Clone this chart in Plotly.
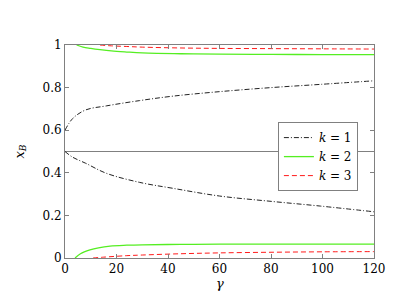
import plotly.graph_objects as go

# ---- data ----
g_k1 = [0, 3, 8, 16, 29, 42, 60, 80, 99, 120]
k1_upper = [0.60, 0.655, 0.695, 0.714, 0.739, 0.760, 0.781, 0.800, 0.815, 0.832]
k1_lower = [0.50, 0.473, 0.445, 0.398, 0.355, 0.327, 0.291, 0.266, 0.244, 0.217]

g_k2 = [4.5, 7, 10, 13.6, 18, 24, 30, 45, 60, 80, 100, 120]
k2_upper = [1.0, 0.990, 0.984, 0.978, 0.972, 0.967, 0.963, 0.959, 0.957, 0.956, 0.955, 0.955]
g_k2l = [3.9, 6, 9.7, 13, 17.5, 24, 30, 45, 60, 80, 100, 120]
k2_lower = [0.0, 0.020, 0.038, 0.048, 0.056, 0.060, 0.062, 0.064, 0.065, 0.065, 0.065, 0.065]

g_k3 = [13.6, 18, 24, 30, 45, 60, 80, 100, 120]
k3_upper = [1.0, 0.996, 0.993, 0.990, 0.986, 0.984, 0.983, 0.982, 0.981]
g_k3l = [10.9, 15, 24, 30, 45, 60, 80, 100, 120]
k3_lower = [0.0, 0.004, 0.011, 0.014, 0.020, 0.024, 0.027, 0.029, 0.030]

x_ticks = [0, 20, 40, 60, 80, 100, 120]
y_ticks = [0, 0.2, 0.4, 0.6, 0.8, 1]
y_tick_labels = ["0", "0.2", "0.4", "0.6", "0.8", "1"]
ref_level = 0.5

names = ["<i>k</i>\u00a0=\u00a01", "<i>k</i>\u00a0=\u00a02", "<i>k</i>\u00a0=\u00a03"]
SERIF = "DejaVu Serif"
BLACK = "#222222"
GREEN = "#55ee22"
RED = "#ff1a1a"
DASHDOT = "5px,2px,1px,2px"
DASH = "5px,3px"

fig = go.Figure()
fig.add_trace(go.Scatter(x=g_k1, y=k1_upper, mode="lines", name=names[0],
                         line=dict(color=BLACK, width=1, dash=DASHDOT, shape="spline")))
fig.add_trace(go.Scatter(x=g_k1, y=k1_lower, mode="lines", name=names[0], showlegend=False,
                         line=dict(color=BLACK, width=1, dash=DASHDOT, shape="spline")))
fig.add_trace(go.Scatter(x=g_k2, y=k2_upper, mode="lines", name=names[1],
                         line=dict(color=GREEN, width=1.3, shape="spline")))
fig.add_trace(go.Scatter(x=g_k2l, y=k2_lower, mode="lines", name=names[1], showlegend=False,
                         line=dict(color=GREEN, width=1.3, shape="spline")))
fig.add_trace(go.Scatter(x=g_k3, y=k3_upper, mode="lines", name=names[2],
                         line=dict(color=RED, width=1, dash=DASH, shape="spline")))
fig.add_trace(go.Scatter(x=g_k3l, y=k3_lower, mode="lines", name=names[2], showlegend=False,
                         line=dict(color=RED, width=1, dash=DASH, shape="spline")))

fig.add_shape(type="line", xref="paper", yref="y", x0=0, x1=1, y0=ref_level, y1=ref_level,
              line=dict(color="#808080", width=1), layer="below")

axis_common = dict(showgrid=False, zeroline=False, showline=True, linecolor="#808080", linewidth=1,
                   mirror="ticks", ticks="inside", ticklen=4, tickcolor="#808080",
                   tickfont=dict(family=SERIF, size=12, color="black"))

fig.add_annotation(text="<i>γ</i>", xref="paper", yref="paper", x=0.5, y=0,
                   xanchor="center", yanchor="top", yshift=-16, showarrow=False,
                   font=dict(family=SERIF, size=13, color="black"))
fig.add_annotation(text="<i>x</i><sub><i>B</i></sub>", xref="paper", yref="paper", x=0, y=0.5,
                   xanchor="center", yanchor="middle", xshift=-45, textangle=-90, showarrow=False,
                   font=dict(family=SERIF, size=13, color="black"))

fig.update_layout(
    width=399, height=296,
    margin=dict(l=57, r=33, t=37, b=46),
    paper_bgcolor="white", plot_bgcolor="white",
    xaxis=dict(range=[0, 120], tickvals=x_ticks, **axis_common),
    yaxis=dict(range=[0, 1], tickvals=y_ticks, ticktext=y_tick_labels, **axis_common),
    legend=dict(x=0.689, y=0.638, xanchor="left", yanchor="top",
                bgcolor="white", bordercolor="#808080", borderwidth=1,
                font=dict(family=SERIF, size=12, color="black"),
                itemwidth=30),
    showlegend=True,
)

fig.write_html("out.html")
